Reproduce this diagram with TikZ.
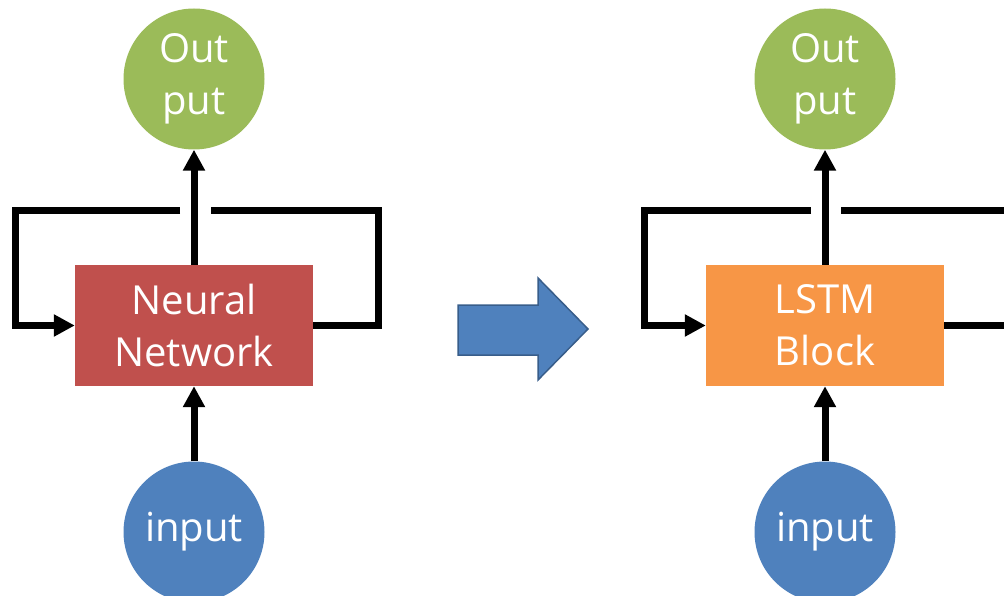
\documentclass[tikz,border=0pt]{standalone}
\usepackage{fontspec}
\setmainfont{Open Sans}
\usetikzlibrary{arrows.meta}
\definecolor{nngreen}{HTML}{9BBB59}
\definecolor{nnred}{HTML}{C0504D}
\definecolor{nnblue}{HTML}{4F81BD}
\definecolor{nnblueedge}{HTML}{385D8A}
\definecolor{nnorange}{HTML}{F79646}
\begin{document}
\begin{tikzpicture}[x=1pt,y=-1pt,
  every node/.style={text=white,font=\fontsize{40}{52}\selectfont,align=center,inner sep=0pt},
  ball/.style={circle,minimum size=141pt},
  block/.style={rectangle,minimum width=238pt,minimum height=121pt},
  wire/.style={line width=7pt,line join=miter},
  flow/.style={wire,-{Triangle[length=21pt,width=21pt]}}]
\useasboundingbox (0,0) rectangle (1004,596);

% plain recurrent network
\node[ball,fill=nngreen] (outL) at (194,79) {Out\\put};
\node[block,fill=nnred] (boxL) at (194,325.5) {Neural\\Network};
\node[ball,fill=nnblue] (inL) at (194,532) {input};
\coordinate (lA) at (211,211);
\coordinate (lB) at (180,211);
\draw[flow] (inL.north) -- (boxL.south);
\draw[flow] (boxL.north) -- (outL.south);
\draw[wire] (boxL.east) -| (378,211) -- (lA);
\draw[flow] (lB) -- (15,211) |- (boxL.west);

% transition arrow
\draw[fill=nnblue,draw=nnblueedge,line width=1.5pt]
  (458,305) -- (538,305) -- (538,278) -- (588,329) -- (538,380) -- (538,355) -- (458,355) -- cycle;

% LSTM variant
\node[ball,fill=nngreen] (outR) at (825,79) {Out\\put};
\node[block,fill=nnorange] (boxR) at (825,325.5) {LSTM\\Block};
\node[ball,fill=nnblue] (inR) at (825,532) {input};
\coordinate (rA) at (841,211);
\coordinate (rB) at (811,211);
\coordinate (rEnd) at (1004,211);
\coordinate (rOut) at (1004,325.5);
\draw[flow] (inR.north) -- (boxR.south);
\draw[flow] (boxR.north) -- (outR.south);
\draw[wire] (boxR.east) -- (rOut);
\draw[wire] (rEnd) -- (rA);
\draw[flow] (rB) -- (644,211) |- (boxR.west);
\end{tikzpicture}
\end{document}
